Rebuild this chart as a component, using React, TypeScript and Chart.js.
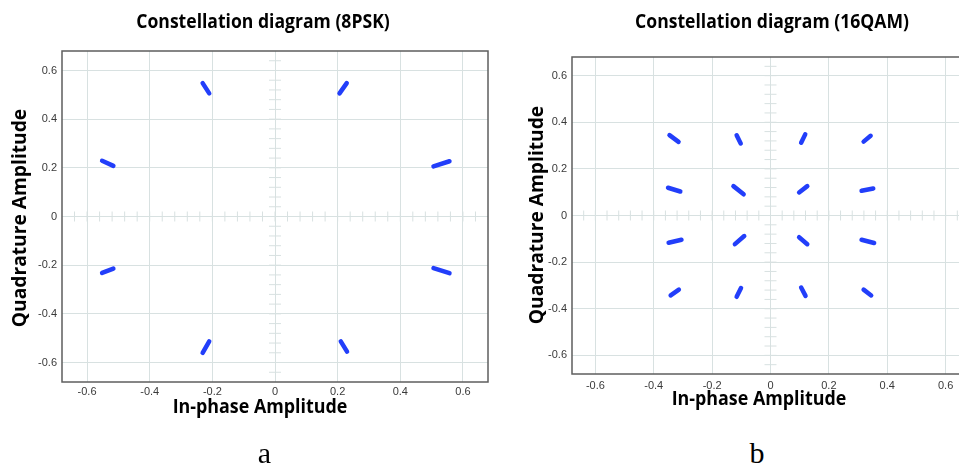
import React, { useEffect, useRef } from "react";
import { Chart, registerables } from "chart.js";
Chart.register(...registerables);

// ---------- Data ----------
// Axis ticks (both diagrams)
const tickValues = [-0.6, -0.4, -0.2, 0, 0.2, 0.4, 0.6];
const tickLabels = ["-0.6", "-0.4", "-0.2", "0", "0.2", "0.4", "0.6"];
const axisMin = -0.68;
const axisMax = 0.68;
const minorTickStep = 0.04;

// 8PSK: each symbol cloud is a short radial streak (inner end -> outer end)
const psk8InnerI = [0.506, 0.206, -0.21, -0.516, -0.516, -0.21, 0.21, 0.506];
const psk8InnerQ = [0.206, 0.506, 0.506, 0.208, -0.214, -0.513, -0.513, -0.212];
const psk8OuterI = [0.557, 0.229, -0.231, -0.552, -0.552, -0.231, 0.23, 0.557];
const psk8OuterQ = [0.227, 0.548, 0.548, 0.229, -0.232, -0.56, -0.555, -0.233];

// 16QAM: radial streaks, rows top -> bottom, left -> right
const qam16InnerI = [-0.315, -0.102, 0.105, 0.319, -0.309, -0.092, 0.098, 0.312, -0.305, -0.09, 0.098, 0.312, -0.314, -0.101, 0.105, 0.319];
const qam16InnerQ = [0.316, 0.309, 0.312, 0.317, 0.103, 0.091, 0.099, 0.106, -0.104, -0.088, -0.093, -0.104, -0.318, -0.311, -0.309, -0.318];
const qam16OuterI = [-0.346, -0.116, 0.119, 0.343, -0.351, -0.127, 0.126, 0.352, -0.349, -0.122, 0.126, 0.355, -0.342, -0.116, 0.12, 0.345];
const qam16OuterQ = [0.345, 0.344, 0.348, 0.342, 0.119, 0.126, 0.126, 0.116, -0.117, -0.123, -0.123, -0.118, -0.343, -0.349, -0.345, -0.343];

// ---------- Styles ----------
const pointColor = "rgb(34,62,250)";
const gridColor = "rgb(216,225,225)";
const frameColor = "#5e5e5e";
const tickFont = { family: "'Liberation Sans', Arial, sans-serif", size: 11 };
const tickColor = "#3a3a3a";

const framePlugin = {
  id: "frame",
  beforeDatasetsDraw(chart: any) {
    const { ctx, chartArea, scales } = chart;
    const xs = scales.x;
    const ys = scales.y;
    const x0 = xs.getPixelForValue(0);
    const y0 = ys.getPixelForValue(0);
    ctx.save();
    ctx.strokeStyle = gridColor;
    ctx.lineWidth = 1;
    ctx.beginPath();
    for (let v = -0.64; v <= 0.6401; v += minorTickStep) {
      const px = xs.getPixelForValue(v);
      if (px > chartArea.left && px < chartArea.right) {
        ctx.moveTo(px, y0 - 5);
        ctx.lineTo(px, y0 + 5);
      }
      const py = ys.getPixelForValue(v);
      if (py > chartArea.top && py < chartArea.bottom) {
        ctx.moveTo(x0 - 6, py);
        ctx.lineTo(x0 + 6, py);
      }
    }
    ctx.stroke();
    ctx.restore();
  },
  afterDraw(chart: any) {
    const { ctx, chartArea } = chart;
    ctx.save();
    ctx.strokeStyle = frameColor;
    ctx.lineWidth = 1.5;
    ctx.strokeRect(chartArea.left, chartArea.top, chartArea.right - chartArea.left, chartArea.bottom - chartArea.top);
    ctx.restore();
  },
};

function makeConfig(
  innerI: number[], innerQ: number[], outerI: number[], outerQ: number[],
  pad: { top: number; right: number }, yWidth: number, xHeight: number, xPad: number
): any {
  const datasets = innerI.map((_, k) => ({
    data: [
      { x: innerI[k], y: innerQ[k] },
      { x: outerI[k], y: outerQ[k] },
    ],
    showLine: true,
    borderColor: pointColor,
    backgroundColor: pointColor,
    borderWidth: 4.5,
    borderCapStyle: "round",
    pointRadius: 0,
    pointHoverRadius: 0,
  }));
  const scaleCommon = (isX: boolean) => ({
    type: "linear",
    min: axisMin,
    max: axisMax,
    afterBuildTicks: (s: any) => {
      s.ticks = tickValues.map((v) => ({ value: v }));
    },
    afterFit: (s: any) => {
      if (isX) s.height = xHeight;
      else s.width = yWidth;
    },
    grid: { color: gridColor, lineWidth: 1, drawTicks: false },
    border: { display: false },
    ticks: {
      autoSkip: false,
      maxRotation: 0,
      padding: isX ? xPad : 5,
      font: tickFont,
      color: tickColor,
      callback: (v: number) => tickLabels[tickValues.indexOf(v)],
    },
  });
  return {
    type: "scatter",
    data: { datasets },
    options: {
      responsive: false,
      animation: false,
      devicePixelRatio: 1,
      layout: { padding: { left: 0, top: pad.top, right: pad.right, bottom: 0 } },
      plugins: { legend: { display: false }, tooltip: { enabled: false }, title: { display: false } },
      scales: { x: scaleCommon(true), y: scaleCommon(false) },
    },
    plugins: [framePlugin],
  };
}

function ChartCanvas(props: { config: any; left: number; width: number; height: number }) {
  const ref = useRef<HTMLCanvasElement | null>(null);
  useEffect(() => {
    if (!ref.current) return;
    const chart = new Chart(ref.current, props.config);
    return () => chart.destroy();
  }, []);
  return (
    <canvas
      ref={ref}
      width={props.width}
      height={props.height}
      style={{ position: "absolute", left: props.left, top: 0, width: props.width, height: props.height }}
    />
  );
}

const sansTitle = "'Open Sans', 'Noto Sans', sans-serif";
const serifCaption = "'Liberation Serif', 'Times New Roman', serif";

function Label(props: { text: string; cx: number; baseline: number; size: number; family: string; weight?: number; rotate?: boolean; sx?: number }) {
  const { text, cx, baseline, size, family, weight, rotate } = props;
  const sx = props.sx || 1;
  const w = 400;
  const lh = size;
  const asc = family.includes("Serif") ? 0.3375 : 0.388;
  const baseOff = lh / 2 + asc * size;
  const common: any = {
    position: "absolute",
    width: w,
    height: lh,
    lineHeight: lh + "px",
    fontSize: size,
    fontFamily: family,
    fontWeight: weight || 400,
    textAlign: "center",
    whiteSpace: "nowrap",
    color: "#000",
    transformOrigin: "50% 50%",
  };
  if (rotate) {
    const d = baseOff - lh / 2;
    const centerX = baseline - d;
    return (
      <div style={{ ...common, left: centerX - w / 2, top: cx - lh / 2, transform: `rotate(-90deg) scaleX(${sx})` }}>
        {text}
      </div>
    );
  }
  return (
    <div style={{ ...common, left: cx - w / 2, top: baseline - baseOff, transform: `scaleX(${sx})` }}>
      {text}
    </div>
  );
}

export default function App() {
  const leftConfig = makeConfig(psk8InnerI, psk8InnerQ, psk8OuterI, psk8OuterQ, { top: 51, right: 12 }, 62, 18, 3);
  const rightConfig = makeConfig(qam16InnerI, qam16InnerQ, qam16OuterI, qam16OuterQ, { top: 57, right: 11 }, 72, 18, 5);
  return (
    <div style={{ position: "absolute", left: 0, top: 0, width: 959, height: 469, overflow: "hidden", background: "#fff" }}>
      <ChartCanvas config={leftConfig} left={0} width={500} height={400} />
      <ChartCanvas config={rightConfig} left={500} width={480} height={392} />
      <Label text="Constellation diagram (8PSK)" cx={262.5} baseline={28.5} size={19} family={sansTitle} weight={700} sx={0.925} />
      <Label text="Constellation diagram (16QAM)" cx={772} baseline={29} size={19} family={sansTitle} weight={700} sx={0.925} />
      <Label text="In-phase Amplitude" cx={260} baseline={414} size={19} family={sansTitle} weight={700} sx={0.94} />
      <Label text="In-phase Amplitude" cx={759} baseline={406} size={19} family={sansTitle} weight={700} sx={0.94} />
      <Label text="Quadrature Amplitude" cx={218} baseline={26.5} size={20} family={sansTitle} weight={700} rotate sx={0.96} />
      <Label text="Quadrature Amplitude" cx={215} baseline={543.5} size={20} family={sansTitle} weight={700} rotate sx={0.96} />
      <Label text="a" cx={264.5} baseline={463} size={30} family={serifCaption} />
      <Label text="b" cx={757} baseline={463} size={30} family={serifCaption} />
    </div>
  );
}
